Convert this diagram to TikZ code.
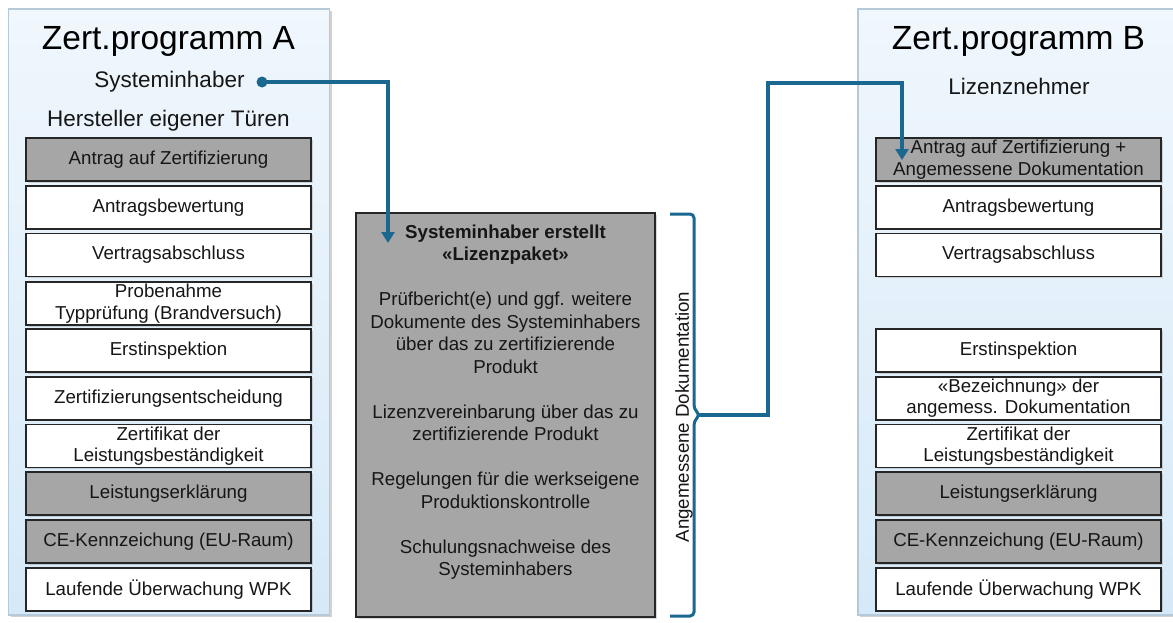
\documentclass[tikz,border=0pt]{standalone}
\usepackage{fontspec}
\setmainfont{Liberation Sans}
\usetikzlibrary{arrows.meta,shadows}
\definecolor{conn}{HTML}{1A6790}
\definecolor{boxgray}{HTML}{A6A6A6}
\definecolor{boxline}{HTML}{262626}
\definecolor{paneltop}{HTML}{F0F7FD}
\definecolor{panelbot}{HTML}{D6E9F8}
\definecolor{panelline}{HTML}{B5C9D8}
\definecolor{textc}{HTML}{161616}
\tikzset{
  panel/.style={draw=panelline, line width=1.5pt, top color=paneltop, bottom color=panelbot,
    drop shadow={shadow xshift=2pt, shadow yshift=-2pt, opacity=0.35}, inner sep=0pt},
  stepbox/.style={draw=boxline, line width=1.6pt, minimum width=285pt, minimum height=43pt,
    inner sep=0pt, align=center, text=textc, font=\fontsize{18.7}{21.5}\selectfont,
    drop shadow={shadow xshift=1.5pt, shadow yshift=-1.5pt, opacity=0.3}},
  graybox/.style={stepbox, fill=boxgray},
  whitebox/.style={stepbox, fill=white},
  title/.style={font=\fontsize{33.5}{40}\selectfont, text=black, inner sep=0pt},
  subtitle/.style={font=\fontsize{22.5}{27}\selectfont, text=textc, inner sep=0pt},
  connline/.style={draw=conn, line width=3.5pt, line join=miter},
  arrowline/.style={connline, -{Triangle[width=13pt,length=11pt]}},
  bracestyle/.style={draw=conn, line width=3pt, rounded corners=4pt},
  midtext/.style={align=center, text=textc, font=\fontsize{18.7}{22.5}\selectfont, inner sep=0pt},
}
\begin{document}
\begin{tikzpicture}[x=1pt, y=-1pt]
\useasboundingbox (0,0) rectangle (1173,622);
\clip (0,0) rectangle (1173,622);
\fill[white] (0,0) rectangle (1173,622);

% panels
\node[panel, minimum width=321pt, minimum height=606pt] (pA) at (169,312) {};
\node[panel, minimum width=322pt, minimum height=606pt] (pB) at (1019,312) {};

% titles
\node[title] (tA) at (168.5,41) {Zert.programm A};
\node[subtitle] (sA) at (169.5,82) {Systeminhaber};
\node[subtitle] (hA) at (168.5,121) {Hersteller eigener Türen};
\node[title] (tB) at (1018.5,41) {Zert.programm B};
\node[subtitle] (sB) at (1019,86) {Lizenznehmer};

% left column
\node[graybox]  (a1)  at (168.5,159.5) {Antrag auf Zertifizierung};
\node[whitebox] (a2)  at (168.5,207.25) {Antragsbewertung};
\node[whitebox] (a3)  at (168.5,255) {Vertragsabschluss};
\node[whitebox] (a4)  at (168.5,303.5) {Probenahme\\Typprüfung (Brandversuch)};
\node[whitebox] (a5)  at (168.5,350.5) {Erstinspektion};
\node[whitebox] (a6)  at (168.5,398.25) {Zertifizierungsentscheidung};
\node[whitebox] (a7)  at (168.5,446) {Zertifikat der\\Leistungsbeständigkeit};
\node[graybox]  (a8)  at (168.5,493.75) {Leistungserklärung};
\node[graybox]  (a9)  at (168.5,541.5) {CE-Kennzeichung (EU-Raum)};
\node[whitebox] (a10) at (168.5,589.25) {Laufende Überwachung WPK};

% right column
\node[graybox]  (b1) at (1018.5,159.5) {Antrag auf Zertifizierung +\\Angemessene Dokumentation};
\node[whitebox] (b2) at (1018.5,207.25) {Antragsbewertung};
\node[whitebox] (b3) at (1018.5,255) {Vertragsabschluss};
\node[whitebox] (b5) at (1018.5,350.5) {Erstinspektion};
\node[whitebox] (b6) at (1018.5,398.25) {«Bezeichnung» der\\angemess. Dokumentation};
\node[whitebox] (b7) at (1018.5,446) {Zertifikat der\\Leistungsbeständigkeit};
\node[graybox]  (b8) at (1018.5,493.75) {Leistungserklärung};
\node[graybox]  (b9) at (1018.5,541.5) {CE-Kennzeichung (EU-Raum)};
\node[whitebox] (b10) at (1018.5,589.25) {Laufende Überwachung WPK};

% middle box
\node[draw=boxline, line width=1.6pt, fill=boxgray, minimum width=299pt, minimum height=404pt, inner sep=0pt,
  drop shadow={shadow xshift=1.5pt, shadow yshift=-1.5pt, opacity=0.3}] (mid) at (505.5,415) {};
\node[midtext, anchor=north] (mtext) at (505.5,224.5) {%
  \textbf{Systeminhaber erstellt}\\
  \textbf{«Lizenzpaket»}\\[22.5pt]
  Prüfbericht(e) und ggf. weitere\\
  Dokumente des Systeminhabers\\
  über das zu zertifizierende\\
  Produkt\\[22.5pt]
  Lizenzvereinbarung über das zu\\
  zertifizierende Produkt\\[22.5pt]
  Regelungen für die werkseigene\\
  Produktionskontrolle\\[22.5pt]
  Schulungsnachweise des\\
  Systeminhabers};

% brace
\draw[bracestyle] (670,214) -- (694,214) -- (694,409) -- (700,415) -- (694,421) -- (694,616) -- (670,616);
\node[midtext, rotate=90] (blabel) at (684,417) {Angemessene Dokumentation};

% connectors
\coordinate (dot) at (262,82);
\coordinate (c1) at (388,82);
\coordinate (arr1) at (388,243);
\fill[conn] (dot) circle (5.5pt);
\draw[arrowline] (dot) -- (c1) -- (arr1);

\coordinate (bt) at (699,415);
\coordinate (c2) at (768,415);
\coordinate (c3) at (768,83);
\coordinate (c4) at (902,83);
\coordinate (arr2) at (902,160);
\draw[arrowline] (bt) -- (c2) -- (c3) -- (c4) -- (arr2);
\end{tikzpicture}
\end{document}
